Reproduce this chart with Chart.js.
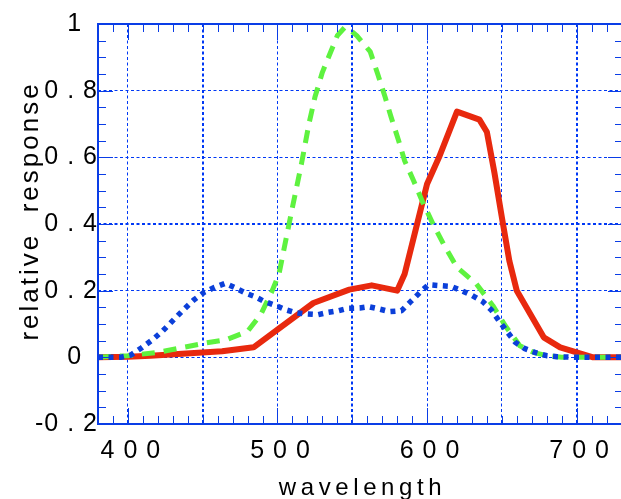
<!DOCTYPE html>
<html>
<head>
<meta charset="utf-8">
<title>Relative response</title>
<script src="https://cdn.jsdelivr.net/npm/chart.js@4.4.1/dist/chart.umd.min.js"></script>
<style>
    html, body { margin: 0; padding: 0; background: #fff; overflow: hidden; }
    #wrap { width: 623px; height: 499px; }
</style>
</head>
<body>
<div id="wrap"><canvas id="responseChart" width="623" height="499"></canvas></div>
<script>
// Long wavelength curve (solid red)
const redWavelengths = [380, 400, 415, 463, 484, 524, 548, 563, 580, 585, 600, 608, 620, 635, 640, 645, 650, 655, 660, 678, 689, 700, 711, 731];
const redValues      = [0, 0.002, 0.005, 0.018, 0.03, 0.163, 0.203, 0.216, 0.2, 0.25, 0.52, 0.6, 0.737, 0.713, 0.676, 0.555, 0.42, 0.29, 0.2, 0.06, 0.03, 0.015, 0, 0];

// Middle wavelength curve (dashed green)
const greenWavelengths = [380, 400, 420, 437, 452, 466, 480, 489, 496, 501, 510, 516, 521, 525, 530, 535, 540, 545, 549, 553, 562, 567, 572, 576, 581, 585, 591, 597, 604, 611, 620, 633, 644, 653, 662, 671, 680, 690, 731];
const greenValues      = [0, 0.005, 0.015, 0.03, 0.043, 0.053, 0.078, 0.13, 0.195, 0.25, 0.45, 0.58, 0.7, 0.78, 0.855, 0.91, 0.965, 0.99, 0.98, 0.965, 0.917, 0.85, 0.78, 0.72, 0.65, 0.59, 0.53, 0.466, 0.4, 0.34, 0.27, 0.22, 0.155, 0.09, 0.035, 0.015, 0.005, 0, 0];

// Short wavelength curve (dotted blue)
const blueWavelengths = [380, 395, 402, 409, 417, 423, 430, 437, 444, 451, 458, 465, 471, 479, 485, 491, 499, 506, 513, 520, 527, 534, 541, 547, 555, 561, 568, 575, 583, 589, 596, 601, 609, 616, 623, 630, 637, 643, 648, 653, 659, 665, 672, 680, 687, 700, 731];
const blueValues      = [0, 0, 0.007, 0.028, 0.055, 0.078, 0.11, 0.142, 0.172, 0.195, 0.21, 0.222, 0.21, 0.192, 0.182, 0.168, 0.155, 0.142, 0.133, 0.13, 0.128, 0.135, 0.14, 0.147, 0.148, 0.152, 0.145, 0.137, 0.14, 0.167, 0.198, 0.218, 0.215, 0.213, 0.2, 0.186, 0.168, 0.142, 0.11, 0.08, 0.045, 0.027, 0.015, 0.005, 0.002, 0, 0];

// Axis ticks and labels
const xGridValues = [400, 450, 500, 550, 600, 650, 700];
const xLabelValues = [400, 500, 600, 700];
const xTickLabels = ['4 0 0', '5 0 0', '6 0 0', '7 0 0'];
const yGridValues = [-0.2, 0, 0.2, 0.4, 0.6, 0.8, 1];
const yTickLabels = ['-0 . 2', '0  ', '0 . 2', '0 . 4', '0 . 6', '0 . 8', '1  '];
const xTitle = 'wavelength';
const yTitle = 'relative  response';

const AXIS_BLUE = '#0a3de6';
const GRID_BLUE = '#0038f5';
const FONT = '"Liberation Sans", Arial, Helvetica, sans-serif';

function toPoints(wavelengths, values) {
    return wavelengths.map((w, i) => ({ x: w, y: values[i] }));
}

// Frame with inward minor/major ticks on all four sides
const frameTicks = {
    id: 'frameTicks',
    afterDraw(chart) {
        const { ctx, chartArea: a, scales: { x, y } } = chart;
        ctx.save();
        ctx.strokeStyle = AXIS_BLUE;
        ctx.lineWidth = 1;
        ctx.beginPath();
        for (let v = 390; v <= 730; v += 10) {
            const px = Math.round(x.getPixelForValue(v)) + 0.5;
            const len = v % 100 === 0 ? 16 : 8;
            ctx.moveTo(px, a.bottom); ctx.lineTo(px, a.bottom - len);
            ctx.moveTo(px, a.top); ctx.lineTo(px, a.top + len);
        }
        for (let i = -3; i < 20; i++) {
            const py = Math.round(y.getPixelForValue(i * 0.05)) + 0.5;
            const len = i % 4 === 0 ? 15 : 8;
            ctx.moveTo(a.left, py); ctx.lineTo(a.left + len, py);
            ctx.moveTo(a.right, py); ctx.lineTo(a.right - len, py);
        }
        ctx.stroke();
        ctx.lineWidth = 2;
        ctx.strokeRect(a.left, a.top, a.right - a.left, a.bottom - a.top);
        ctx.restore();
    }
};

// Letter-spaced axis titles
const axisTitles = {
    id: 'axisTitles',
    afterDraw(chart) {
        const { ctx, chartArea: a } = chart;
        ctx.save();
        ctx.fillStyle = '#000';
        ctx.textAlign = 'center';
        ctx.textBaseline = 'alphabetic';
        ctx.font = '24px ' + FONT;
        ctx.letterSpacing = '4.6px';
        ctx.fillText(xTitle, (a.left + a.right) / 2 + 2, 495);
        ctx.font = '26px ' + FONT;
        ctx.letterSpacing = '3px';
        ctx.translate(38, 211);
        ctx.rotate(-Math.PI / 2);
        ctx.fillText(yTitle, 0, 0);
        ctx.restore();
    }
};

// Slight spacing on tick labels
const tickSpacing = {
    id: 'tickSpacing',
    beforeLayout(chart) { chart.ctx.letterSpacing = '1px'; },
    beforeDraw(chart) { chart.ctx.letterSpacing = '1px'; }
};

const ctx = document.getElementById('responseChart').getContext('2d');
const responseChart = new Chart(ctx, {
    type: 'line',
    data: {
        datasets: [{
            label: 'red',
            data: toPoints(redWavelengths, redValues),
            borderColor: '#e8290e',
            borderWidth: 6,
            order: 3
        }, {
            label: 'green',
            data: toPoints(greenWavelengths, greenValues),
            borderColor: '#5ef23f',
            borderWidth: 5,
            borderDash: [13, 9],
            order: 2
        }, {
            label: 'blue',
            data: toPoints(blueWavelengths, blueValues),
            borderColor: '#0b3fd9',
            borderWidth: 5.5,
            borderDash: [5, 5.5],
            order: 1
        }]
    },
    options: {
        responsive: false,
        animation: false,
        layout: { padding: { top: 24, left: 0, right: 0, bottom: 0 } },
        elements: {
            point: { radius: 0 },
            line: { tension: 0, borderJoinStyle: 'round', fill: false }
        },
        plugins: {
            legend: { display: false },
            tooltip: { enabled: false }
        },
        scales: {
            x: {
                type: 'linear',
                min: 380,
                max: 731,
                afterBuildTicks: scale => { scale.ticks = xGridValues.map(v => ({ value: v })); },
                afterFit: scale => { scale.height = 75; },
                grid: {
                    color: GRID_BLUE,
                    lineWidth: c => [450, 550, 700].includes(c.tick && c.tick.value) ? 2 : 1,
                    drawTicks: false
                },
                border: { display: false, dash: [3, 2.5] },
                ticks: {
                    autoSkip: false,
                    maxRotation: 0,
                    padding: 12,
                    labelOffset: 3,
                    color: '#000',
                    font: { family: FONT, size: 25 },
                    callback: v => {
                        const i = xLabelValues.indexOf(v);
                        return i >= 0 ? xTickLabels[i] : '';
                    }
                }
            },
            y: {
                min: -0.2,
                max: 1,
                afterBuildTicks: scale => { scale.ticks = yGridValues.map(v => ({ value: v })); },
                afterFit: scale => { scale.width = 98; },
                grid: {
                    color: GRID_BLUE,
                    lineWidth: c => (c.tick && c.tick.value === 0.4) ? 2 : 1,
                    drawTicks: false
                },
                border: { display: false, dash: [3, 2.5] },
                ticks: {
                    autoSkip: false,
                    padding: 0,
                    color: '#000',
                    font: { family: FONT, size: 25 },
                    callback: (v, i) => yTickLabels[i]
                }
            }
        }
    },
    plugins: [tickSpacing, frameTicks, axisTitles]
});
</script>
</body>
</html>
